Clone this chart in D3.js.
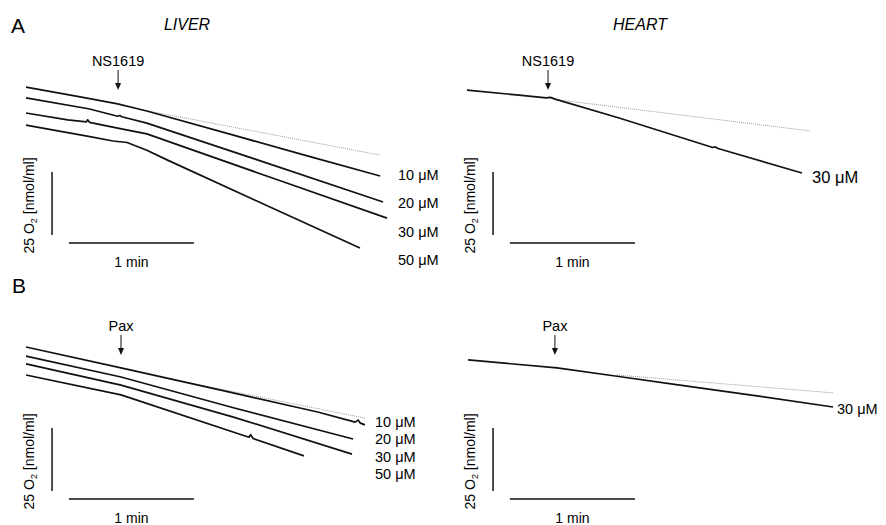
<!DOCTYPE html>
<html>
<head>
<meta charset="utf-8">
<script src="https://cdn.jsdelivr.net/npm/d3@7"></script>
<style>
  body { margin: 0; background: #fff; }
  svg { display: block; font-family: "Liberation Sans", Arial, sans-serif; }
</style>
</head>
<body>
<svg id="chart" width="886" height="525"></svg>
<script>
// traces: [time (s), O2 (nmol/ml, offset for display)]
const liverA10 = [[0, 72.6], [26, 68.7], [44, 65.9], [58, 63.1], [100, 53.4], [135, 45.3], [170, 37.3]];
const liverA20 = [[0, 68.3], [30, 64.0], [44, 61.0], [45, 61.3], [46, 60.8], [58, 58.3], [110, 44.0], [171.4, 27.0]];
const liverA30 = [[0, 62.3], [20, 59.6], [29, 58.8], [29.6, 59.6], [30.5, 58.6], [44, 56.3], [58, 54.0], [120, 36.0], [173.3, 20.6]];
const liverA50 = [[0, 57.5], [30, 53.0], [41.8, 51.2], [48.5, 50.6], [58, 47.5], [67.7, 43.7], [110, 27.7], [160.3, 8.7]];
const liverADot = [[56, 63.5], [170, 45.6]];

const heartA30 = [[0, 71.4], [25, 69.4], [38, 68.3], [40, 68.5], [42.7, 67.7], [73, 60.3], [118, 48.6], [119, 48.9], [120.5, 48.2], [160.8, 38.5]];
const heartADot = [[42, 67.7], [164.6, 55.2]];

const liverB10 = [[0, 48.8], [45.6, 40.5], [99.4, 30.6], [140, 23.0], [158, 19.0], [159.4, 19.8], [160.5, 18.6], [162.7, 17.9]];
const liverB20 = [[0, 45.2], [45.6, 36.9], [100, 24.6], [157, 12.3]];
const liverB30 = [[0, 42.1], [45.6, 33.7], [100, 20.9], [156.5, 6.3]];
const liverB50 = [[0, 37.7], [45.6, 29.8], [107, 13.0], [107.8, 14.0], [109, 12.5], [133.4, 5.6]];
const liverBDot = [[64.3, 36.9], [162.7, 20.6]];

const heartB30 = [[0.5, 43.7], [43.2, 40.5], [72, 37.2], [102.2, 33.7], [140, 29.3], [175.7, 25.0]];
const heartBDot = [[72, 37.7], [175.7, 30.6]];

const concLiver = ["10 μM", "20 μM", "30 μM", "50 μM"];
const concHeart = ["30 μM"];
const tracesLiverA = [liverA10, liverA20, liverA30, liverA50];
const tracesLiverB = [liverB10, liverB20, liverB30, liverB50];

const svg = d3.select("#chart");

// one panel = time/O2 scales placed at a pixel origin
function panel(opt) {
  const x = d3.scaleLinear().domain([0, 60]).range([opt.left, opt.left + 125]);
  const y = d3.scaleLinear().domain([0, 25]).range([opt.yZero, opt.yZero - 63]);
  const line = d3.line().x(d => x(d[0])).y(d => y(d[1]));

  // dotted extrapolation of basal rate
  svg.append("path")
    .attr("d", line(opt.dot))
    .attr("fill", "none")
    .attr("stroke", "#9a9a9a")
    .attr("stroke-width", 1)
    .attr("stroke-dasharray", "1,1");

  svg.selectAll(null)
    .data(opt.traces)
    .enter()
    .append("path")
    .attr("d", d => line(d))
    .attr("fill", "none")
    .attr("stroke", "#111")
    .attr("stroke-width", 1.7)
    .attr("stroke-linejoin", "round");

  // drug label + arrow
  svg.append("text")
    .attr("x", x(opt.arrowT))
    .attr("y", opt.arrowTop - 4)
    .attr("text-anchor", "middle")
    .attr("font-size", 14.5)
    .text(opt.drug);
  const ax = x(opt.arrowT);
  svg.append("line")
    .attr("x1", ax).attr("x2", ax)
    .attr("y1", opt.arrowTop).attr("y2", opt.arrowTop + 14)
    .attr("stroke", "#111").attr("stroke-width", 1);
  svg.append("path")
    .attr("d", `M${ax - 3},${opt.arrowTop + 13} L${ax + 3},${opt.arrowTop + 13} L${ax},${opt.arrowTop + 20} Z`)
    .attr("fill", "#111");

  // concentration labels
  svg.selectAll(null)
    .data(opt.conc)
    .enter()
    .append("text")
    .attr("x", opt.concX)
    .attr("y", (d, i) => opt.concY[i])
    .attr("font-size", opt.concSize)
    .text(d => d);

  // scale bars: 25 nmol/ml and 1 min
  svg.append("line")
    .attr("x1", x(12.5)).attr("x2", x(12.5))
    .attr("y1", y(opt.barO2)).attr("y2", y(opt.barO2 + 25))
    .attr("stroke", "#111").attr("stroke-width", 1.5);
  svg.append("line")
    .attr("x1", x(20.6)).attr("x2", x(80.6))
    .attr("y1", opt.hbarY).attr("y2", opt.hbarY)
    .attr("stroke", "#111").attr("stroke-width", 1.5);
  svg.append("text")
    .attr("x", x(50.6))
    .attr("y", opt.hbarY + 24)
    .attr("text-anchor", "middle")
    .attr("font-size", 14)
    .text("1 min");

  const yl = svg.append("text")
    .attr("transform", `translate(${opt.left + 8},${(y(opt.barO2) + y(opt.barO2 + 25)) / 2 + 2}) rotate(-90)`)
    .attr("text-anchor", "middle")
    .attr("font-size", 14);
  yl.append("tspan").text("25 O");
  yl.append("tspan").attr("font-size", 9).attr("dy", 3).text("2");
  yl.append("tspan").attr("dy", -3).text(" [nmol/ml]");
}

panel({ left: 26, yZero: 270, traces: tracesLiverA, dot: liverADot, drug: "NS1619", arrowT: 44.2, arrowTop: 70,
        conc: concLiver, concX: 398, concY: [180, 208, 237, 265], concSize: 14.5, barO2: 13.9, hbarY: 243 });
panel({ left: 467, yZero: 270, traces: [heartA30], dot: heartADot, drug: "NS1619", arrowT: 38.9, arrowTop: 70,
        conc: concHeart, concX: 812, concY: [183], concSize: 16.5, barO2: 13.9, hbarY: 243 });
panel({ left: 26, yZero: 470, traces: tracesLiverB, dot: liverBDot, drug: "Pax", arrowT: 45.6, arrowTop: 335,
        conc: concLiver, concX: 375, concY: [427, 444, 462, 479], concSize: 14.5, barO2: -8.3, hbarY: 499 });
panel({ left: 467, yZero: 470, traces: [heartB30], dot: heartBDot, drug: "Pax", arrowT: 42.2, arrowTop: 335,
        conc: concHeart, concX: 837, concY: [414], concSize: 14.5, barO2: -8.3, hbarY: 499 });

// panel letters and tissue titles
svg.append("text").attr("x", 11).attr("y", 33).attr("font-size", 21).text("A");
svg.append("text").attr("x", 12).attr("y", 293).attr("font-size", 21).text("B");
svg.append("text").attr("x", 187).attr("y", 30).attr("text-anchor", "middle")
  .attr("font-size", 16).attr("font-style", "italic").text("LIVER");
svg.append("text").attr("x", 640).attr("y", 30).attr("text-anchor", "middle")
  .attr("font-size", 16).attr("font-style", "italic").text("HEART");
</script>
</body>
</html>
